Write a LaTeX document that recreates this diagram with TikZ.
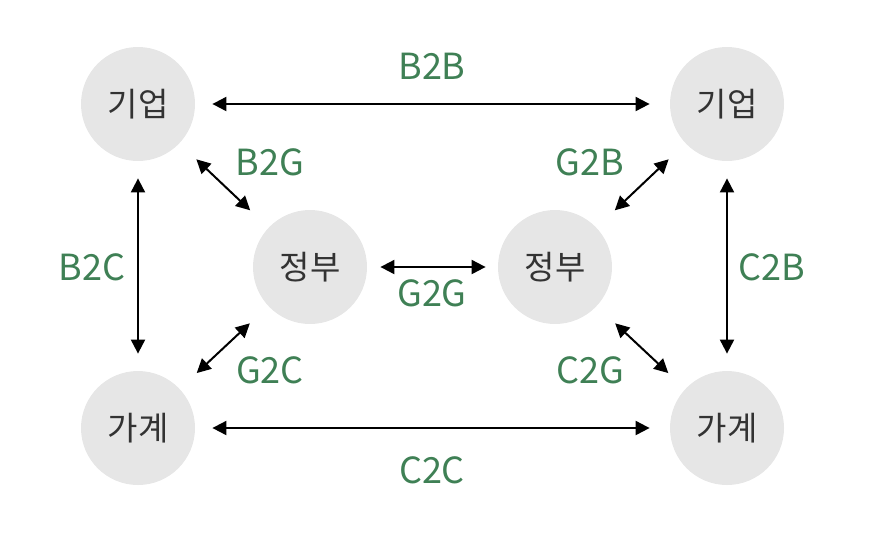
\documentclass[tikz,border=0pt]{standalone}
\usepackage{fontspec}
\setmainfont{Noto Sans CJK KR}
\usetikzlibrary{arrows.meta,positioning}
\definecolor{ringgray}{HTML}{E6E6E6}
\definecolor{tradegreen}{HTML}{3F8055}
\definecolor{inkgray}{HTML}{333333}
\tikzset{
  actor/.style={circle,fill=ringgray,minimum size=57pt,inner sep=0pt,
    text=inkgray,font=\fontsize{16.5}{18}\selectfont},
  flow/.style={{Triangle[length=7pt,width=7pt]}-{Triangle[length=7pt,width=7pt]},
    line width=1pt,black},
  flowname/.style={text=tradegreen,font=\fontsize{18}{20}\selectfont}
}
\begin{document}
\begin{tikzpicture}[x=0.5pt,y=-0.5pt]
\useasboundingbox (0,0) rectangle (871,542);
\node[actor] (bizL) at (138,104) {기업};
\node[actor] (bizR) at (727,104) {기업};
\node[actor] (govL) at (310,267) {정부};
\node[actor] (govR) at (555,267) {정부};
\node[actor] (homeL) at (138,428) {가계};
\node[actor] (homeR) at (727,428) {가계};
% outer arrows
\draw[flow,shorten <=8.5pt,shorten >=10pt] (bizL) -- (bizR);
\draw[flow,shorten <=8.5pt,shorten >=10pt] (homeL) -- (homeR);
\draw[flow,shorten <=8.5pt,shorten >=8.5pt] (bizL) -- (homeL);
\draw[flow,shorten <=8.5pt,shorten >=8.5pt] (bizR) -- (homeR);
% inner arrows
\draw[flow,shorten <=11.5pt,shorten >=12.5pt] (bizL) -- (govL);
\draw[flow,shorten <=11.5pt,shorten >=12.5pt] (homeL) -- (govL);
\draw[flow,shorten <=11.5pt,shorten >=12.5pt] (bizR) -- (govR);
\draw[flow,shorten <=11.5pt,shorten >=12.5pt] (homeR) -- (govR);
\draw[flow,shorten <=6.5pt,shorten >=6pt] (govL) -- (govR);
% labels
\node[flowname] (lbB2B) at (432,66) {B2B};
\node[flowname] (lbC2C) at (432,470) {C2C};
\node[flowname] (lbB2C) at (92,267) {B2C};
\node[flowname] (lbC2B) at (772,267) {C2B};
\node[flowname] (lbB2G) at (270,162) {B2G};
\node[flowname] (lbG2B) at (590,162) {G2B};
\node[flowname] (lbG2C) at (270,370) {G2C};
\node[flowname] (lbC2G) at (590,370) {C2G};
\node[flowname] (lbG2G) at (432,293) {G2G};
\end{tikzpicture}
\end{document}
